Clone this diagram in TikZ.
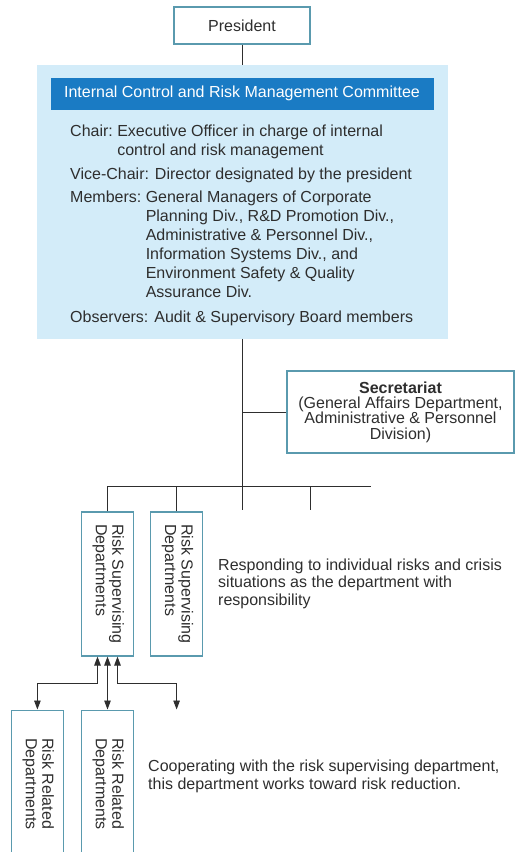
\documentclass[tikz,border=0pt]{standalone}
\usepackage{fontspec}
\setmainfont{Liberation Sans}
\usepackage{graphicx}
\usetikzlibrary{arrows.meta,positioning}
\definecolor{sky}{HTML}{D3ECF9}
\definecolor{navy}{HTML}{1A7BC4}
\definecolor{edge}{HTML}{5A9AAE}
\definecolor{ink}{HTML}{2E2E2E}

\begin{document}
\begin{tikzpicture}[x=1pt,y=1pt,text=ink,font=\fontsize{16}{19}\selectfont,
 box/.style={draw=edge,line width=1.1pt,fill=white,inner sep=0pt,align=center},
 dept/.style={box,minimum width=52pt,minimum height=144pt,font=\fontsize{16}{16.5}\selectfont},
 row/.style={anchor=base west,inner sep=0pt},
 note/.style={anchor=north west,inner sep=0pt,align=left},
 link/.style={draw=ink,line width=0.9pt},
 both/.style={link,{Triangle[length=9pt,width=6.5pt]}-{Triangle[length=9pt,width=6.5pt]}}]
 \useasboundingbox (0,0) rectangle (518,852); \clip (0,0) rectangle (518,852);
 \node[box,minimum width=136pt,minimum height=37pt] (pres) at (242,826.5) {President};
 \node[fill=sky,minimum width=411pt,minimum height=274pt,below=20pt of pres] (icrm) {};
 \node[fill=navy,text=white,minimum width=383pt,minimum height=32pt,inner sep=0pt,below=13pt of icrm.north] (head) {Internal Control and Risk Management Committee};
 % committee members
 \node[row] (chair) at (70,715) {\begin{tabular}[t]{@{}l@{\ }l@{}}Chair: & Executive Officer in charge of internal\\ & control and risk management\end{tabular}};
 \node[row] (vice) at (70,672) {Vice-Chair: Director designated by the president};
 \node[row] (memb) at (70,649) {\begin{tabular}[t]{@{}l@{\ }l@{}}Members: & General Managers of Corporate\\ & Planning Div., R\&D Promotion Div.,\\ & Administrative \& Personnel Div.,\\ & Information Systems Div., and\\ & Environment Safety \& Quality\\ & Assurance Div.\end{tabular}};
 \node[row] (obs) at (70,529) {Observers: Audit \& Supervisory Board members};
 \node[box,minimum width=227pt,minimum height=82pt,font=\fontsize{16}{15.4}\selectfont] (sec) at (400.5,440) {\textbf{Secretariat}\\(General Affairs Department,\\Administrative \& Personnel\\Division)};
 % departments
 \node[dept] (sup1) at (107.5,268) {\rotatebox{-90}{\begin{tabular}{@{}l@{}}Risk Supervising\\Departments\end{tabular}}};
 \node[dept,right=16pt of sup1] (sup2) {\rotatebox{-90}{\begin{tabular}{@{}l@{}}Risk Supervising\\Departments\end{tabular}}};
 \node[dept,minimum height=148pt,below=53pt of sup1] (rel2) {\rotatebox{-90}{\begin{tabular}{@{}l@{}}Risk Related\\Departments\end{tabular}}};
 \node[dept,minimum height=148pt,left=17pt of rel2] (rel1) {\rotatebox{-90}{\begin{tabular}{@{}l@{}}Risk Related\\Departments\end{tabular}}};
 \node[note,font=\fontsize{16}{17.2}\selectfont] (resp) at (218,293) {Responding to individual risks and crisis\\situations as the department with\\responsibility};
 \node[note,font=\fontsize{16}{18}\selectfont] (coop) at (148,92) {Cooperating with the risk supervising department,\\this department works toward risk reduction.};
 \coordinate (bar) at (242,366); \coordinate (barend) at (371,366);
 \coordinate (d3) at (242,342); \coordinate (d4) at (310,342); \coordinate (open) at (sup2 |- rel2.north);
 \draw[link] (pres) -- (icrm.north); \draw[link] (icrm.south) -- (bar);
 \draw[link] (sec.west) -- (sec.west -| bar);
 \draw[link] (sup1.north) |- (barend); \draw[link] (sup2.north) -- (sup2.north |- bar);
 \draw[link] (d3) -- (bar); \draw[link] (d4) -- (d4 |- bar);
 \draw[both] ([xshift=-10pt]sup1.south) -- ++(0,-27) -| (rel1.north);
 \draw[both] (sup1.south) -- (rel2.north);
 \draw[both] ([xshift=10pt]sup1.south) -- ++(0,-27) -| (open);
\end{tikzpicture}
\end{document}
